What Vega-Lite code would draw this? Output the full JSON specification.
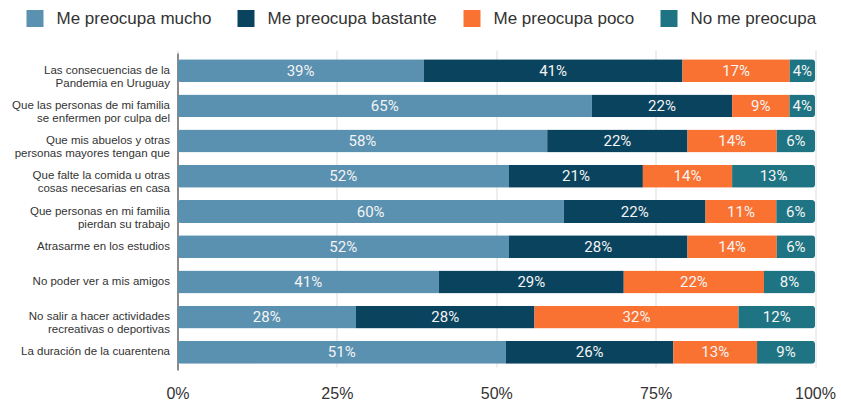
{
  "$schema": "https://vega.github.io/schema/vega-lite/v6.json",
  "width": 637.5,
  "height": 326,
  "autosize": "none",
  "padding": {"left": 177.5, "top": 47, "right": 26, "bottom": 30},
  "background": "white",
  "config": {"view": {"stroke": null}},
  "data": {
    "values": [
      {"q": "Las consecuencias de la|Pandemia en Uruguay", "s": "Me preocupa mucho", "k": 1, "v": 0.39},
      {"q": "Las consecuencias de la|Pandemia en Uruguay", "s": "Me preocupa bastante", "k": 2, "v": 0.41},
      {"q": "Las consecuencias de la|Pandemia en Uruguay", "s": "Me preocupa poco", "k": 3, "v": 0.17},
      {"q": "Las consecuencias de la|Pandemia en Uruguay", "s": "No me preocupa", "k": 4, "v": 0.04},
      {"q": "Que las personas de mi familia|se enfermen por culpa del", "s": "Me preocupa mucho", "k": 1, "v": 0.65},
      {"q": "Que las personas de mi familia|se enfermen por culpa del", "s": "Me preocupa bastante", "k": 2, "v": 0.22},
      {"q": "Que las personas de mi familia|se enfermen por culpa del", "s": "Me preocupa poco", "k": 3, "v": 0.09},
      {"q": "Que las personas de mi familia|se enfermen por culpa del", "s": "No me preocupa", "k": 4, "v": 0.04},
      {"q": "Que mis abuelos y otras|personas mayores tengan que", "s": "Me preocupa mucho", "k": 1, "v": 0.58},
      {"q": "Que mis abuelos y otras|personas mayores tengan que", "s": "Me preocupa bastante", "k": 2, "v": 0.22},
      {"q": "Que mis abuelos y otras|personas mayores tengan que", "s": "Me preocupa poco", "k": 3, "v": 0.14},
      {"q": "Que mis abuelos y otras|personas mayores tengan que", "s": "No me preocupa", "k": 4, "v": 0.06},
      {"q": "Que falte la comida u otras|cosas necesarias en casa", "s": "Me preocupa mucho", "k": 1, "v": 0.52},
      {"q": "Que falte la comida u otras|cosas necesarias en casa", "s": "Me preocupa bastante", "k": 2, "v": 0.21},
      {"q": "Que falte la comida u otras|cosas necesarias en casa", "s": "Me preocupa poco", "k": 3, "v": 0.14},
      {"q": "Que falte la comida u otras|cosas necesarias en casa", "s": "No me preocupa", "k": 4, "v": 0.13},
      {"q": "Que personas en mi familia|pierdan su trabajo", "s": "Me preocupa mucho", "k": 1, "v": 0.60},
      {"q": "Que personas en mi familia|pierdan su trabajo", "s": "Me preocupa bastante", "k": 2, "v": 0.22},
      {"q": "Que personas en mi familia|pierdan su trabajo", "s": "Me preocupa poco", "k": 3, "v": 0.11},
      {"q": "Que personas en mi familia|pierdan su trabajo", "s": "No me preocupa", "k": 4, "v": 0.06},
      {"q": "Atrasarme en los estudios", "s": "Me preocupa mucho", "k": 1, "v": 0.52},
      {"q": "Atrasarme en los estudios", "s": "Me preocupa bastante", "k": 2, "v": 0.28},
      {"q": "Atrasarme en los estudios", "s": "Me preocupa poco", "k": 3, "v": 0.14},
      {"q": "Atrasarme en los estudios", "s": "No me preocupa", "k": 4, "v": 0.06},
      {"q": "No poder ver a mis amigos", "s": "Me preocupa mucho", "k": 1, "v": 0.41},
      {"q": "No poder ver a mis amigos", "s": "Me preocupa bastante", "k": 2, "v": 0.29},
      {"q": "No poder ver a mis amigos", "s": "Me preocupa poco", "k": 3, "v": 0.22},
      {"q": "No poder ver a mis amigos", "s": "No me preocupa", "k": 4, "v": 0.08},
      {"q": "No salir a hacer actividades|recreativas o deportivas", "s": "Me preocupa mucho", "k": 1, "v": 0.28},
      {"q": "No salir a hacer actividades|recreativas o deportivas", "s": "Me preocupa bastante", "k": 2, "v": 0.28},
      {"q": "No salir a hacer actividades|recreativas o deportivas", "s": "Me preocupa poco", "k": 3, "v": 0.32},
      {"q": "No salir a hacer actividades|recreativas o deportivas", "s": "No me preocupa", "k": 4, "v": 0.12},
      {"q": "La duración de la cuarentena", "s": "Me preocupa mucho", "k": 1, "v": 0.51},
      {"q": "La duración de la cuarentena", "s": "Me preocupa bastante", "k": 2, "v": 0.26},
      {"q": "La duración de la cuarentena", "s": "Me preocupa poco", "k": 3, "v": 0.13},
      {"q": "La duración de la cuarentena", "s": "No me preocupa", "k": 4, "v": 0.09}
    ]
  },
  "encoding": {
    "y": {
      "field": "q",
      "type": "nominal",
      "sort": null,
      "title": null,
      "scale": {"range": [6, 323], "paddingInner": 0.35, "paddingOuter": 0.175},
      "axis": {
        "labelExpr": "split(datum.label, '|')",
        "labelFont": "Liberation Sans",
        "labelFontSize": 11.5,
        "labelColor": "#333333",
        "labelLineHeight": 13,
        "labelPadding": 8,
        "ticks": false,
        "domainColor": "#8a8a8a",
        "domainWidth": 2,
        "grid": false,
        "labelLimit": 200
      }
    },
    "order": {"field": "k", "type": "quantitative"}
  },
  "layer": [
    {
      "mark": {"type": "bar", "cornerRadius": 3},
      "encoding": {
        "x": {
          "field": "v",
          "type": "quantitative",
          "stack": "normalize",
          "title": null,
          "scale": {"domain": [0, 1], "nice": false},
          "axis": {
            "values": [0, 0.25, 0.5, 0.75, 1],
            "format": ".0%",
            "grid": true,
            "gridColor": "#dcdcdc",
            "gridWidth": 1,
            "domain": false,
            "ticks": false,
            "labelFont": "Liberation Sans",
            "labelFontSize": 16,
            "labelColor": "#333333",
            "labelPadding": 12,
            "labelFlush": false
          }
        },
        "color": {
          "field": "s",
          "type": "nominal",
          "sort": ["Me preocupa mucho", "Me preocupa bastante", "Me preocupa poco", "No me preocupa"],
          "scale": {
            "domain": ["Me preocupa mucho", "Me preocupa bastante", "Me preocupa poco", "No me preocupa"],
            "range": ["#5a91b1", "#0a435e", "#fa7232", "#1e7482"]
          },
          "legend": {
            "title": null,
            "orient": "none",
            "direction": "horizontal",
            "legendX": -151,
            "legendY": -37,
            "symbolType": "square",
            "symbolSize": 289,
            "symbolStrokeWidth": 0,
            "symbolOpacity": 1,
            "labelFont": "Liberation Sans",
            "labelFontSize": 17,
            "labelColor": "#333333",
            "labelOffset": 13,
            "columnPadding": 26,
            "labelLimit": 300
          }
        }
      }
    },
    {
      "mark": {"type": "text", "font": "Roboto", "fontSize": 15, "color": "#f4f4f4", "align": "center", "baseline": "middle"},
      "encoding": {
        "x": {"field": "v", "type": "quantitative", "stack": "normalize", "bandPosition": 0.5},
        "detail": {"field": "s"},
        "text": {"field": "v", "type": "quantitative", "format": ".0%"}
      }
    }
  ]
}
